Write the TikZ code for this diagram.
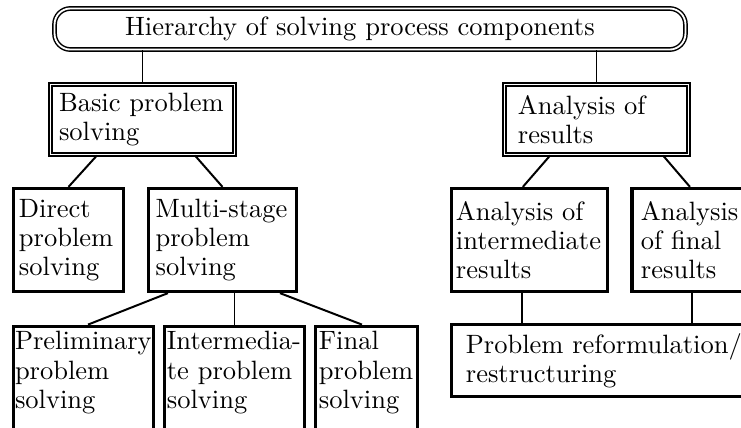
\documentclass[tikz,border=0pt]{standalone}
\usepackage{tikz}
\tikzstyle{every node}=[draw=black,very thick,align=left,inner sep=0pt,font=\fontsize{10}{11}\selectfont]
\tikzstyle{twofold}=[double,double distance=0.6pt,line width=0.75pt]
\tikzstyle{headbox}=[double,double distance=0.7pt,line width=0.55pt,rounded corners=6pt]
\tikzstyle{open}=[anchor=north,inner ysep=2pt,text depth=60pt]
\tikzstyle{link}=[line width=0.75pt]
\begin{document}
\begin{tikzpicture}[x=0.3774pt,y=-0.3774pt]
  \useasboundingbox (0,0) rectangle (741,427);
  \node [headbox,minimum width=238.1pt,minimum height=15.5pt,text width=184.9pt]
    (top) at (370,29) {Hierarchy of solving process components};
  \node [twofold,minimum width=69.4pt,minimum height=26.4pt,text width=63pt]
    (basic) at (142.5,119.5) {Basic problem\\solving};
  \node [twofold,minimum width=69.4pt,minimum height=26.4pt,text width=59.3pt]
    (results) at (596.5,119.5) {Analysis of\\results};
  \node [minimum width=41.5pt,minimum height=38.9pt,text width=37.4pt]
    (direct) at (68.5,240) {Direct\\problem\\solving};
  \node [minimum width=55.9pt,minimum height=38.9pt,text width=50.5pt]
    (multi) at (222.5,240) {Multi-stage\\problem\\solving};
  \node [minimum width=58.9pt,minimum height=38.9pt,text width=55.5pt]
    (anaint) at (529.5,240) {Analysis of\\intermediate\\results};
  \node [minimum width=47.6pt,minimum height=38.9pt,text width=40.8pt]
    (anafin) at (695,240) {Analysis\\of final\\results};
  \node [minimum width=115.9pt,minimum height=27.2pt,text width=105pt]
    (reform) at (605,360.5) {Problem reformulation/\\restructuring};
  \node [open,minimum width=52.8pt,text width=51.7pt]
    (prelim) at (83.5,324.6) {Preliminary\\problem\\solving};
  \node [open,minimum width=52.8pt,text width=51pt]
    (inter) at (234.5,324.6) {Intermedia-\\te problem\\solving};
  \node [open,minimum width=38.5pt,text width=35.9pt]
    (final) at (366.5,324.6) {Final\\problem\\solving};
  \draw [link] (basic.north) -- (basic.north |- top.south);
  \draw [link] (results.north) -- (results.north |- top.south);
  \draw [link] ([xshift=-17.2pt]basic.south) -- (direct.north);
  \draw [link] ([xshift=19.8pt]basic.south) -- (multi.north);
  \draw [link] ([xshift=-17.5pt]results.south) -- ([xshift=-2.5pt]anaint.north);
  \draw [link] ([xshift=25.1pt]results.south) -- ([xshift=-1.9pt]anafin.north);
  \draw [link] ([xshift=-20.6pt]multi.south) -- ([xshift=1.7pt]prelim.north);
  \draw [link] (inter.north) -- (inter.north |- multi.south);
  \draw [link] ([xshift=21.7pt]multi.south) -- ([xshift=-1.7pt]final.north);
  \draw [link] ([xshift=-2.8pt]anaint.south) -- ([xshift=-2.8pt]anaint.south |- reform.north);
  \draw [link] ([xshift=-1.1pt]anafin.south) -- ([xshift=-1.1pt]anafin.south |- reform.north);
\end{tikzpicture}
\end{document}
